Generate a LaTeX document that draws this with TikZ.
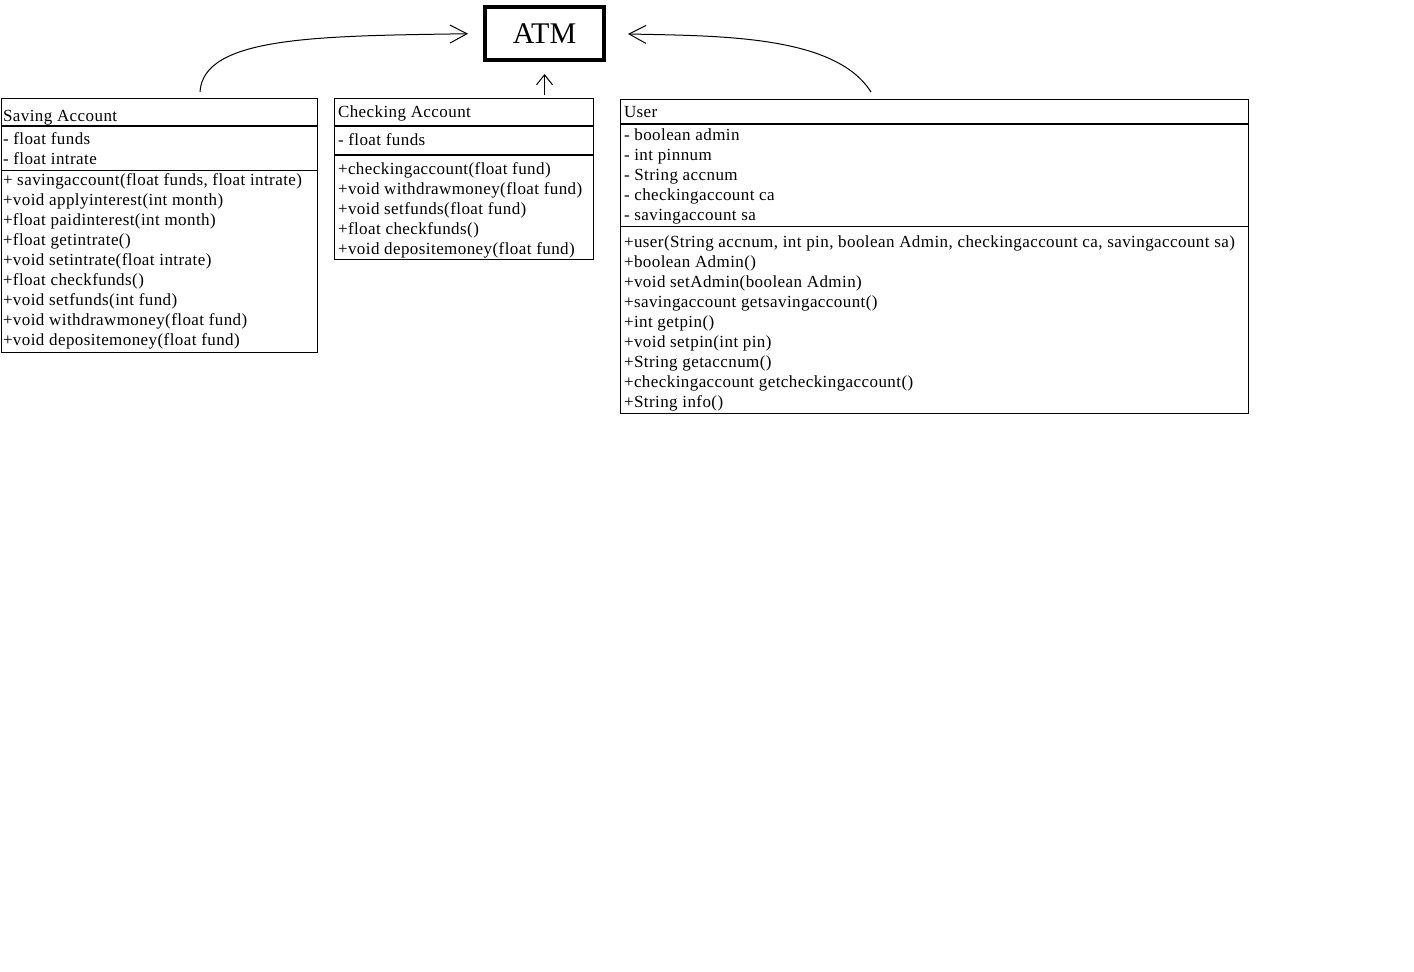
\documentclass[tikz,border=0pt]{standalone}
\usepackage{fontspec}
\setmainfont{Liberation Serif}
\newfontfamily\bodyf{Liberation Serif}[LetterSpace=2.5]
\usetikzlibrary{arrows.meta}
\tikzset{
  classbox/.style={draw, line width=1pt, anchor=north west, inner sep=0pt, outer sep=0pt},
  txt/.style={anchor=north west, inner sep=0pt, outer sep=0pt, align=left, font=\bodyf\fontsize{17}{20}\selectfont},
  septhick/.style={line width=2pt},
  septhin/.style={line width=1pt},
  conn/.style={line width=1pt, -{Straight Barb[length=17pt,width=18pt]}},
  connshort/.style={line width=1pt, -{Straight Barb[length=10pt,width=16pt]}},
}
\begin{document}
\begin{tikzpicture}[x=1pt,y=-1pt]
\useasboundingbox[fill=white] (0,0) rectangle (1414,972);
% ATM
\node[draw, line width=4pt, minimum width=119pt, minimum height=53pt, inner sep=0pt, font=\fontsize{30}{36}\selectfont] (atm) at (544.5,33.5) {ATM};
% Saving Account
\node[classbox, minimum width=316pt, minimum height=254pt] (saving) at (1,98.5) {};
\draw[septhick] (saving.west |- 0,125.5) -- (saving.east |- 0,125.5);
\draw[septhin] (saving.west |- 0,170.5) -- (saving.east |- 0,170.5);
\node[txt] (sv-title) at (3,107.5) {\strut Saving Account};
\node[txt] (sv-attr) at (3,130) {\strut- float funds\\- float intrate};
\node[txt] (sv-meth) at (3,171) {\strut+ savingaccount(float funds, float intrate)\\+void applyinterest(int month)\\+float paidinterest(int month)\\+float getintrate()\\+void setintrate(float intrate)\\+float checkfunds()\\+void setfunds(int fund)\\+void withdrawmoney(float fund)\\+void depositemoney(float fund)};
% Checking Account
\node[classbox, minimum width=259pt, minimum height=161pt] (checking) at (334.5,98.5) {};
\draw[septhick] (checking.west |- 0,126) -- (checking.east |- 0,126);
\draw[septhick] (checking.west |- 0,155) -- (checking.east |- 0,155);
\node[txt] (ck-title) at (338,103) {\strut Checking Account};
\node[txt] (ck-attr) at (338,131) {\strut- float funds};
\node[txt] (ck-meth) at (338,160) {\strut+checkingaccount(float fund)\\+void withdrawmoney(float fund)\\+void setfunds(float fund)\\+float checkfunds()\\+void depositemoney(float fund)};
% User
\node[classbox, minimum width=628pt, minimum height=314pt] (user) at (620.5,99.5) {};
\draw[septhick] (user.west |- 0,123.5) -- (user.east |- 0,123.5);
\draw[septhin] (user.west |- 0,226.5) -- (user.east |- 0,226.5);
\node[txt] (us-title) at (624,103) {\strut User};
\node[txt] (us-attr) at (624,126) {\strut- boolean admin\\- int pinnum\\- String accnum\\- checkingaccount ca\\- savingaccount sa};
\node[txt] (us-meth) at (624,233) {\strut+user(String accnum, int pin, boolean Admin, checkingaccount ca, savingaccount sa)\\+boolean Admin()\\+void setAdmin(boolean Admin)\\+savingaccount getsavingaccount()\\+int getpin()\\+void setpin(int pin)\\+String getaccnum()\\+checkingaccount getcheckingaccount()\\+String info()};
% connectors
\coordinate (sv-start) at (200,92);
\coordinate (ck-start) at (544.5,95);
\coordinate (us-start) at (871,92);
\draw[conn, shorten >=15pt] (sv-start) .. controls (203,36) and (320,36) .. (atm.west);
\draw[connshort, shorten >=12pt] (ck-start) -- (atm.south);
\draw[conn, shorten >=22pt] (us-start) .. controls (835,35) and (720,36) .. (atm.east);
\end{tikzpicture}
\end{document}
